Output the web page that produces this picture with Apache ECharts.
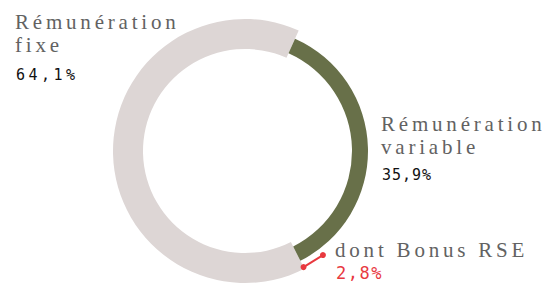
<!DOCTYPE html>
<html>
<head>
<meta charset="utf-8">
<script src="https://cdn.jsdelivr.net/npm/echarts@6/dist/echarts.min.js"></script>
<style>
  html, body { margin: 0; padding: 0; background: #fff; }
  #chart { width: 555px; height: 284px; }
</style>
</head>
<body>
<div id="chart"></div>
<script>
// données
var categories = ['Rémunération\nfixe', 'Rémunération\nvariable'];
var shares = [64.1, 35.9];
var bonusLabel = 'dont Bonus RSE';
var bonusShare = 2.8;

var colors = ['#ddd6d5', '#687049'];
var startAngle = 66;

function pct(v) {
	return v.toFixed(1).replace('.', ',') + '%';
}

// espacement des lettres (appliqué après le rendu svg)
var spacing = {};
spacing[pct(shares[0])] = 3.5;
spacing[pct(shares[1])] = 1;
spacing[pct(bonusShare)] = 1.5;

var chart = echarts.init(document.getElementById('chart'), null, {renderer: 'svg'});

var serifStyle = {fontFamily: 'Liberation Serif', fontSize: 21, fill: '#626262'};
var monoStyle = {fontFamily: 'DejaVu Sans Mono', fill: '#111', verticalAlign: 'middle'};

var option = {
	animation: false,
	polar: {center: [245, 151], radius: 132},
	angleAxis: {type: 'value', min: 0, max: 100, startAngle: startAngle, clockwise: true, show: false},
	radiusAxis: {type: 'value', min: 0, max: 1, show: false},
	series: [
		{
			// anneau large (fixe)
			type: 'pie', silent: true, center: [245, 151], radius: [102, 132],
			startAngle: startAngle, clockwise: true,
			label: {show: false}, labelLine: {show: false},
			data: [
				{value: shares[1], itemStyle: {color: 'transparent'}},
				{value: shares[0], itemStyle: {color: colors[0]}}
			]
		},
		{
			// anneau fin (variable)
			type: 'pie', silent: true, center: [245, 151], radius: [107, 123],
			startAngle: startAngle, clockwise: true,
			label: {show: false}, labelLine: {show: false},
			data: [
				{value: shares[1], itemStyle: {color: colors[1]}},
				{value: shares[0], itemStyle: {color: 'transparent'}}
			]
		},
		{
			// bonus RSE
			type: 'line', coordinateSystem: 'polar', silent: true,
			symbol: 'circle', symbolSize: 6,
			lineStyle: {color: '#e8393f', width: 2},
			itemStyle: {color: '#e8393f'},
			data: [[0.985, shares[1] - bonusShare], [0.985, shares[1]]]
		}
	],
	graphic: [
		{type: 'text', x: 15, y: 10, style: Object.assign({text: categories[0], lineHeight: 23, verticalAlign: 'top'}, serifStyle)},
		{type: 'text', x: 16, y: 75, style: Object.assign({text: pct(shares[0]), fontSize: 15}, monoStyle)},
		{type: 'text', x: 381, y: 112, style: Object.assign({text: categories[1], lineHeight: 23, verticalAlign: 'top'}, serifStyle)},
		{type: 'text', x: 382, y: 175, style: Object.assign({text: pct(shares[1]), fontSize: 15}, monoStyle)},
		{type: 'text', x: 335, y: 250, style: Object.assign({text: bonusLabel, verticalAlign: 'middle'}, serifStyle)},
		{type: 'text', x: 336, y: 273, style: Object.assign({text: pct(bonusShare), fontSize: 17}, monoStyle, {fill: '#e8393f'})}
	]
};

chart.setOption(option);

function letterSpace() {
	var texts = document.querySelectorAll('#chart svg text');
	for (var i = 0; i < texts.length; i++) {
		var t = texts[i].textContent;
		var s = spacing[t] !== undefined ? spacing[t] : 3.8;
		texts[i].setAttribute('letter-spacing', s + 'px');
	}
}
letterSpace();
chart.on('finished', letterSpace);
</script>
</body>
</html>
